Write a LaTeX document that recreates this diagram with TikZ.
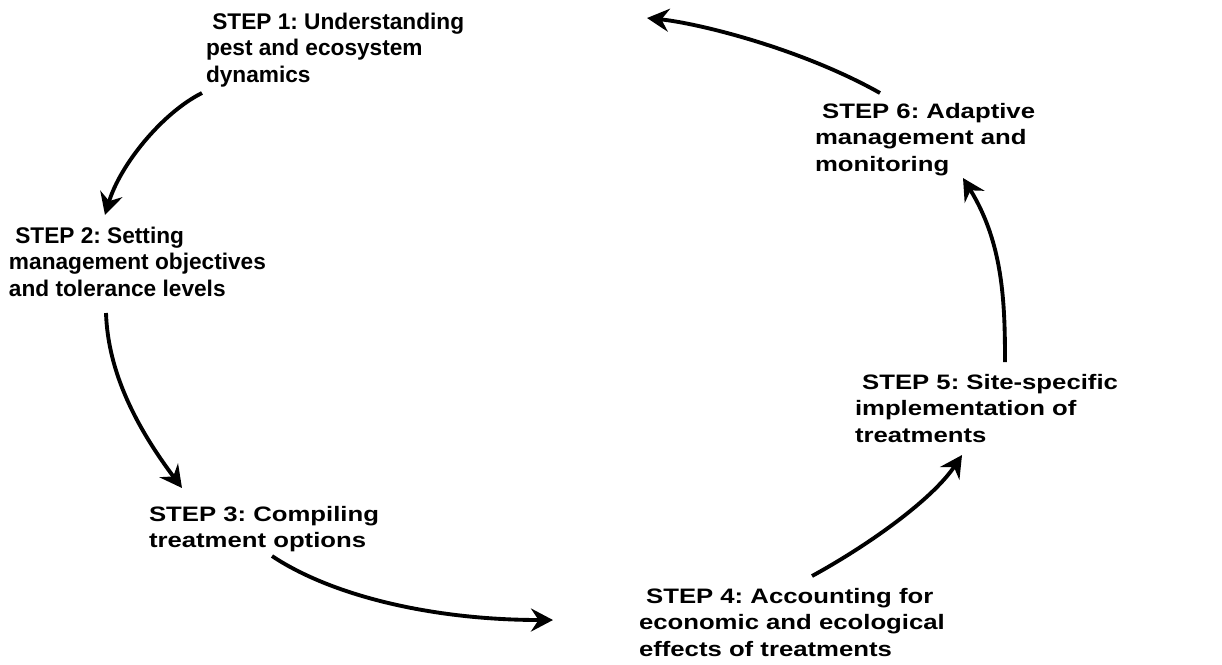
\documentclass[tikz,border=0pt]{standalone}
\usepackage{fontspec}
\setmainfont{Liberation Sans}
\newfontfamily\widefont[FakeStretch=1.23]{Liberation Sans}
\usetikzlibrary{calc,arrows.meta}

\tikzset{
	stepnode/.style={anchor=north west, inner sep=0pt, outer sep=0pt, align=left, font=\fontsize{12.9}{15.1}\selectfont\bfseries\frenchspacing},
	widestep/.style={stepnode, font=\widefont\fontsize{11.9}{15.1}\selectfont\bfseries\frenchspacing},
	cyclearrow/.style={line width=2.2pt, -{Stealth[length=4.4mm, width=4.6mm, inset=1.5mm]}}
}

\begin{document}
\begin{tikzpicture}[x=0.02cm, y=-0.02cm]
			%%%%% START %%%%%
			\useasboundingbox (0, 0) rectangle (1222, 664);
			
			\node[stepnode] (s1) at (206, 12.7) {~STEP 1: Understanding\\pest and ecosystem\\dynamics};
			\node[stepnode] (s2) at (9, 226.7) {~STEP 2: Setting\\management objectives\\and tolerance levels};
			\node[widestep] (s3) at (149, 506) {STEP 3: Compiling\\treatment options};
			\node[widestep] (s4) at (639, 588) {~STEP 4: Accounting for\\economic and ecological\\effects of treatments};
			\node[widestep] (s5) at (855, 374) {~STEP 5: Site-specific\\implementation of\\treatments};
			\node[widestep] (s6) at (815, 103) {~STEP 6: Adaptive\\management and\\monitoring};
			
			\draw[cyclearrow] ($(s1.north west)+(-4, 80.3)$) .. controls +(-40, 20) and +(15, -50) .. ($(s2.north west)+(96, -11.7)$);
			\draw[cyclearrow] ($(s2.north west)+(97, 86.3)$) .. controls +(2, 60) and +(-45, -60) .. ($(s3.north west)+(33, -18)$);
			\draw[cyclearrow] ($(s3.north west)+(123, 50)$) .. controls +(60, 40) and +(-120, 0) .. ($(s4.north west)+(-86, 32)$);
			\draw[cyclearrow] ($(s4.north west)+(173, -12)$) .. controls +(55, -30) and +(-30, 45) .. ($(s5.north west)+(107, 81)$);
			\draw[cyclearrow] ($(s5.north west)+(150, -12)$) .. controls +(0, -60) and +(40, 65) .. ($(s6.north west)+(148, 75)$);
			\draw[cyclearrow] ($(s6.north west)+(65, -10)$) .. controls +(-80, -45) and +(50, 5) .. ($(s1.north west)+(441, 5.3)$);
			
			%%%%% END %%%%%
\end{tikzpicture}
\end{document}
